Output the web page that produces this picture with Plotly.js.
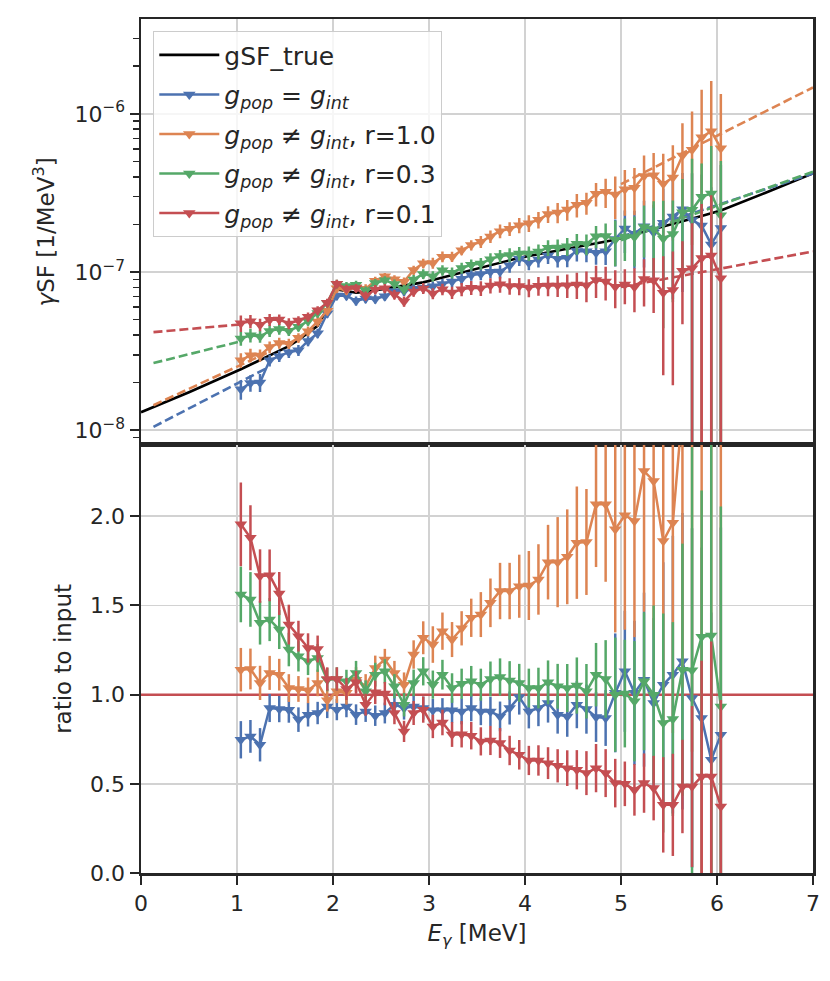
<!DOCTYPE html>
<html><head><meta charset="utf-8">
<script src="https://cdn.plot.ly/plotly-3.0.1.min.js"></script>
<style>html,body{margin:0;padding:0;background:#fff}</style>
</head><body><div id="chart" style="width:830px;height:981px"></div>
<script>
// ---- data ----
const energy = [1.04,1.14,1.24,1.34,1.44,1.54,1.64,1.74,1.84,1.94,
  2.04,2.14,2.24,2.34,2.44,2.54,2.64,2.74,2.84,2.94,
  3.04,3.14,3.24,3.34,3.44,3.54,3.64,3.74,3.84,3.94,
  4.04,4.14,4.24,4.34,4.44,4.54,4.64,4.74,4.84,4.94,
  5.04,5.14,5.24,5.34,5.44,5.54,5.64,5.74,5.84,5.94,6.04];

// true (input) gSF, 1/MeV^3
const trueEnergy = [0,0.5].concat(energy, [6.5,7]);
const gsfTrue = [1.30e-8,1.74e-8,
  2.43e-8,2.60e-8,2.79e-8,2.99e-8,3.20e-8,3.40e-8,3.72e-8,4.13e-8,4.57e-8,5.89e-8,
  7.76e-8,7.59e-8,7.41e-8,7.50e-8,7.67e-8,7.85e-8,8.04e-8,8.22e-8,8.41e-8,8.61e-8,
  8.91e-8,9.23e-8,9.55e-8,1.000e-7,1.035e-7,1.072e-7,1.109e-7,1.148e-7,1.189e-7,1.230e-7,
  1.265e-7,1.300e-7,1.334e-7,1.368e-7,1.403e-7,1.439e-7,1.476e-7,1.514e-7,1.556e-7,1.603e-7,
  1.667e-7,1.730e-7,1.795e-7,1.866e-7,1.941e-7,2.018e-7,2.099e-7,2.178e-7,2.265e-7,2.355e-7,
  2.449e-7,
  3.162e-7,4.207e-7];

// ratio to input
const ratioEq = [0.747,0.766,0.719,0.925,0.919,0.916,0.860,0.888,0.897,0.934,
  0.916,0.934,0.888,0.906,0.882,0.897,0.944,0.925,0.934,0.925,
  0.912,0.912,0.912,0.906,0.925,0.906,0.906,0.878,0.925,0.987,
  0.906,0.925,0.953,0.888,0.878,0.944,0.919,0.875,0.869,1.010,
  1.131,1.010,1.084,0.953,1.056,1.112,1.187,0.981,0.869,0.635,0.775];
const ratioR10 = [1.140,1.144,1.066,1.122,1.112,1.037,1.032,1.024,1.066,0.968,
  1.019,1.010,1.084,1.047,1.150,1.197,1.122,1.056,1.225,1.319,
  1.281,1.356,1.309,1.372,1.431,1.449,1.515,1.581,1.581,1.608,
  1.612,1.646,1.743,1.743,1.773,1.852,1.856,2.067,2.067,1.927,
  2.006,1.974,2.254,2.198,1.861,1.964,2.60,2.72,3.14,3.30,2.48];
const ratioR03 = [1.562,1.534,1.403,1.421,1.365,1.253,1.215,1.187,1.206,1.084,
  1.088,1.075,1.122,1.019,1.112,1.131,1.047,0.944,1.066,1.131,
  1.056,1.112,1.037,1.061,1.075,1.056,1.088,1.099,1.080,1.066,
  1.037,1.037,1.069,1.047,1.037,1.051,1.019,1.112,1.088,1.000,
  1.006,0.963,1.075,1.000,0.841,0.863,1.140,1.137,1.324,1.331,0.934];
const ratioR01 = [1.955,1.880,1.665,1.669,1.567,1.393,1.328,1.262,1.256,1.088,
  1.088,1.032,1.069,0.944,1.013,1.006,0.897,0.794,0.897,0.916,
  0.822,0.844,0.777,0.778,0.770,0.738,0.743,0.729,0.687,0.663,
  0.631,0.631,0.616,0.601,0.588,0.579,0.560,0.588,0.560,0.504,
  0.500,0.466,0.504,0.476,0.382,0.382,0.485,0.485,0.541,0.541,0.373];

// relative uncertainties (error / value)
const relErrEq = [0.14,0.12,0.13,0.085,0.08,0.08,0.08,0.075,0.07,0.07,
  0.065,0.065,0.065,0.065,0.065,0.065,0.065,0.07,0.07,0.07,
  0.07,0.075,0.075,0.08,0.08,0.085,0.09,0.095,0.10,0.10,
  0.105,0.11,0.115,0.12,0.13,0.14,0.15,0.16,0.18,0.33,
  0.30,0.40,0.45,0.50,0.65,0.70,0.70,0.97,1.10,1.30,1.50];
const relErrR10 = [0.107,0.10,0.09,0.085,0.08,0.075,0.07,0.07,0.07,0.065,
  0.065,0.065,0.065,0.065,0.06,0.05,0.06,0.065,0.065,0.07,
  0.08,0.077,0.075,0.07,0.075,0.087,0.09,0.10,0.10,0.11,
  0.12,0.12,0.12,0.145,0.15,0.17,0.16,0.17,0.21,0.30,
  0.32,0.33,0.35,0.38,0.55,0.60,0.60,0.75,1.00,1.08,1.20];
const relErrR03 = [0.10,0.10,0.087,0.085,0.08,0.075,0.07,0.065,0.065,0.06,
  0.06,0.06,0.06,0.06,0.06,0.06,0.065,0.07,0.07,0.07,
  0.075,0.075,0.08,0.08,0.08,0.085,0.09,0.095,0.10,0.10,
  0.105,0.11,0.115,0.12,0.13,0.15,0.15,0.16,0.20,0.32,
  0.30,0.35,0.36,0.50,0.73,0.63,0.62,1.10,0.62,1.00,1.20];
const relErrR01 = [0.12,0.097,0.09,0.087,0.077,0.08,0.065,0.065,0.06,0.06,
  0.06,0.06,0.06,0.065,0.065,0.065,0.07,0.075,0.075,0.08,
  0.08,0.085,0.09,0.095,0.10,0.107,0.11,0.115,0.12,0.125,
  0.13,0.135,0.145,0.155,0.17,0.19,0.22,0.23,0.24,0.27,
  0.25,0.31,0.33,0.38,0.70,0.75,0.54,0.93,1.20,1.40,1.60];

// extrapolation fits (dashed)
const fitLowEnergyEq = [0.13,1.31], fitLowEq = [1.05e-8,2.47e-8];
const fitLowEnergyR10 = [0.13,1.31], fitLowR10 = [1.44e-8,3.08e-8];
const fitLowEnergyR03 = [0.13,1.04], fitLowR03 = [2.66e-8,3.65e-8];
const fitLowEnergyR01 = [0.13,1.04], fitLowR01 = [4.17e-8,4.67e-8];
const fitHighEnergy = [5.0,7.0];
const fitHighEq = [1.67e-7,4.20e-7];
const fitHighR10 = [3.60e-7,1.47e-6];
const fitHighR03 = [1.59e-7,4.31e-7];
const fitHighR01 = [8.04e-8,1.35e-7];

const seriesNames = [
  '<i>g</i><sub><i>pop</i></sub> = <i>g</i><sub><i>int</i></sub>',
  '<i>g</i><sub><i>pop</i></sub> ≠ <i>g</i><sub><i>int</i></sub>, r=1.0',
  '<i>g</i><sub><i>pop</i></sub> ≠ <i>g</i><sub><i>int</i></sub>, r=0.3',
  '<i>g</i><sub><i>pop</i></sub> ≠ <i>g</i><sub><i>int</i></sub>, r=0.1'
];
const yTicks = [1e-8,1e-7,1e-6];
const yTickText = ['10<sup>−8</sup>','10<sup>−7</sup>','10<sup>−6</sup>'];
const ratioTicks = [0,0.5,1.0,1.5,2.0];
const ratioTickText = ['0.0','0.5','1.0','1.5','2.0'];
const energyTicks = [0,1,2,3,4,5,6,7];
const ratioReference = 1.0;

// ---- styling ----
const COLORS = ['#4c72b0','#dd8452','#55a868','#c44e52'];
const FONT = 'DejaVu Sans, Liberation Sans, sans-serif';
const TXT = '#262626';

const trueAtBins = gsfTrue.slice(2, 2 + energy.length);
const ratios = [ratioEq, ratioR10, ratioR03, ratioR01];
const relErrs = [relErrEq, relErrR10, relErrR03, relErrR01];
const fitsLow = [[fitLowEnergyEq,fitLowEq],[fitLowEnergyR10,fitLowR10],[fitLowEnergyR03,fitLowR03],[fitLowEnergyR01,fitLowR01]];
const fitsHigh = [fitHighEq, fitHighR10, fitHighR03, fitHighR01];

const traces = [];
traces.push({x: trueEnergy, y: gsfTrue, xaxis:'x', yaxis:'y', mode:'lines', name:'gSF_true',
  line:{color:'#000000', width:2.6}, legendgroup:'t'});

// reference line at ratio = 1 across the full energy axis
const eSpan = [energyTicks[0], energyTicks[energyTicks.length - 1]];
traces.push({x: eSpan, y: eSpan.map(() => ratioReference), xaxis:'x2', yaxis:'y2', mode:'lines',
  showlegend:false, line:{color:COLORS[3], width:2.5}, hoverinfo:'skip'});

for (let s = 0; s < 4; s++) {
  traces.push({x: fitsLow[s][0], y: fitsLow[s][1], xaxis:'x', yaxis:'y', mode:'lines', showlegend:false,
    line:{color:COLORS[s], width:2.6, dash:'9px,4px'}, hoverinfo:'skip'});
  traces.push({x: fitHighEnergy, y: fitsHigh[s], xaxis:'x', yaxis:'y', mode:'lines', showlegend:false,
    line:{color:COLORS[s], width:2.6, dash:'9px,4px'}, hoverinfo:'skip'});
}

for (let s = 0; s < 4; s++) {
  const r = ratios[s], e = relErrs[s];
  const top = r.map((v, i) => v * trueAtBins[i]);
  const topErr = top.map((v, i) => v * e[i]);
  const ratioErr = r.map((v, i) => v * e[i]);
  const common = {mode:'lines+markers', line:{color:COLORS[s], width:2.5},
    marker:{symbol:'triangle-down', size:11, color:COLORS[s]}};
  traces.push(Object.assign({x: energy, y: top, xaxis:'x', yaxis:'y', name: seriesNames[s], legendgroup:'g'+s,
    error_y:{type:'data', array: topErr, visible:true, color:COLORS[s], thickness:2.5, width:0}}, common));
  traces.push(Object.assign({x: energy, y: r, xaxis:'x2', yaxis:'y2', showlegend:false, legendgroup:'g'+s,
    error_y:{type:'data', array: ratioErr, visible:true, color:COLORS[s], thickness:2.5, width:0}}, common));
}

const axisBase = {showline:true, linecolor:TXT, linewidth:2.5, mirror:true,
  ticks:'outside', ticklen:9, tickwidth:2, tickcolor:TXT,
  showgrid:true, gridcolor:'#d2d2d2', gridwidth:1.8, zeroline:false,
  tickfont:{size:22, color:TXT, family:FONT}};

const split = 0.5014;
const layout = {
  width:830, height:981,
  margin:{l:141, r:17, t:19, b:108, pad:0},
  paper_bgcolor:'#ffffff', plot_bgcolor:'#ffffff',
  font:{family:FONT, color:TXT, size:22},
  showlegend:true,
  legend:{x:0.018, y:0.986, xanchor:'left', yanchor:'top',
    bgcolor:'rgba(255,255,255,0.8)', bordercolor:'#cccccc', borderwidth:1.2,
    font:{size:25, family:FONT, color:TXT}, itemwidth:60, tracegroupgap:4},
  xaxis: Object.assign({}, axisBase, {domain:[0,1], anchor:'y', range:[0,7], tickvals:energyTicks,
    showticklabels:false, ticks:''}),
  yaxis: Object.assign({}, axisBase, {domain:[split,1], anchor:'x', type:'log', range:[-8.092,-5.40],
    tickmode:'array', tickvals:yTicks, ticktext:yTickText,
    minor:{ticks:'outside', ticklen:6, tickwidth:1.6, tickcolor:TXT, dtick:'D1', showgrid:false},
    title:{text:'<i>γ</i>SF [1/MeV<sup>3</sup>]', font:{size:23, family:FONT, color:TXT}, standoff:14}}),
  xaxis2: Object.assign({}, axisBase, {domain:[0,1], anchor:'y2', range:[0,7], tickvals:energyTicks,
    title:{text:'<i>E</i><sub><i>γ</i></sub> [MeV]', font:{size:23, family:FONT, color:TXT}, standoff:10}}),
  yaxis2: Object.assign({}, axisBase, {domain:[0,split], anchor:'x2', range:[0,2.401],
    tickvals:ratioTicks, ticktext:ratioTickText,
    title:{text:'ratio to input', font:{size:23, family:FONT, color:TXT}, standoff:12}})
};

Plotly.newPlot('chart', traces, layout, {displayModeBar:false, staticPlot:true});
</script></body></html>
